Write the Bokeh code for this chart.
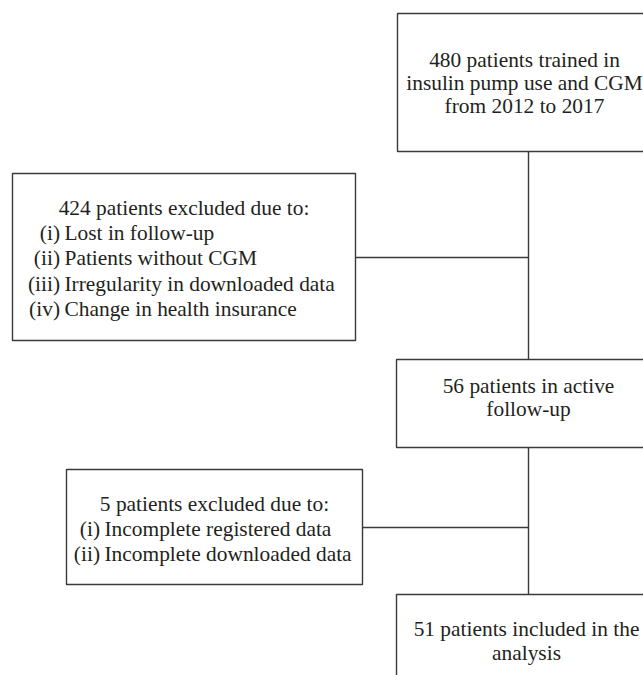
from bokeh.plotting import figure
from bokeh.models import Range1d
from bokeh.core.properties import value
from bokeh.embed import file_html
from bokeh.resources import INLINE

# ---- chart content (flow diagram texts) ----
top_lines = ["480 patients trained in", "insulin pump use and CGM", "from 2012 to 2017"]
excl1_header = "424 patients excluded due to:"
excl1_labels = ["(i)", "(ii)", "(iii)", "(iv)"]
excl1_reasons = ["Lost in follow-up", "Patients without CGM",
                 "Irregularity in downloaded data", "Change in health insurance"]
active_lines = ["56 patients in active", "follow-up"]
excl2_header = "5 patients excluded due to:"
excl2_labels = ["(i)", "(ii)"]
excl2_reasons = ["Incomplete registered data", "Incomplete downloaded data"]
final_lines = ["51 patients included in the", "analysis"]

# ---- layout (picture pixel coordinates, y downward) ----
W, H = 643, 675
p = figure(width=W, height=H, output_backend="svg", toolbar_location=None,
           x_range=Range1d(0, W), y_range=Range1d(H, 0),
           min_border=0)
p.axis.visible = False
p.grid.visible = False
p.outline_line_color = None
p.background_fill_color = "white"

LC = "#3a3a3a"
LW = 1.4
FONT = value("Liberation Serif")
FS = "21.4px"
TC = "#231f20"

# connectors
cx = 528
p.segment(x0=[cx, cx, 355, 362], y0=[151, 447, 257, 527],
          x1=[cx, cx, cx, cx], y1=[359, 594, 257, 527],
          line_color=LC, line_width=LW)

# boxes: left, right, top, bottom
boxes = [(397, 659, 13, 151),
         (12, 355, 173, 340),
         (396, 660, 359, 447),
         (66, 362, 469, 584),
         (396, 660, 594, 700)]
p.quad(left=[b[0] for b in boxes], right=[b[1] for b in boxes],
       top=[b[2] for b in boxes], bottom=[b[3] for b in boxes],
       fill_color="white", line_color=LC, line_width=LW)

def centered(lines, x, y0, step):
    p.text(x=[x] * len(lines), y=[y0 + i * step for i in range(len(lines))],
           text=lines, text_align="center", text_baseline="middle",
           text_font=FONT, text_font_size=FS, text_color=TC)

def listing(labels, reasons, xr, y0, step):
    ys = [y0 + i * step for i in range(len(labels))]
    p.text(x=[xr] * len(labels), y=ys, text=labels, text_align="right",
           text_baseline="middle", text_font=FONT, text_font_size=FS, text_color=TC)
    p.text(x=[xr + 4.5] * len(reasons), y=ys, text=reasons, text_align="left",
           text_baseline="middle", text_font=FONT, text_font_size=FS, text_color=TC)

centered(top_lines, 524, 59, 23.4)
centered([excl1_header], 183.5, 207, 25.4)
listing(excl1_labels, excl1_reasons, 59.5, 232.4, 25.4)
centered(active_lines, 528, 385, 23.2)
centered([excl2_header], 214, 503, 25)
listing(excl2_labels, excl2_reasons, 99.5, 528, 25)
centered(final_lines, 526, 628, 24)

open("out.html", "w").write(file_html(p, INLINE))
